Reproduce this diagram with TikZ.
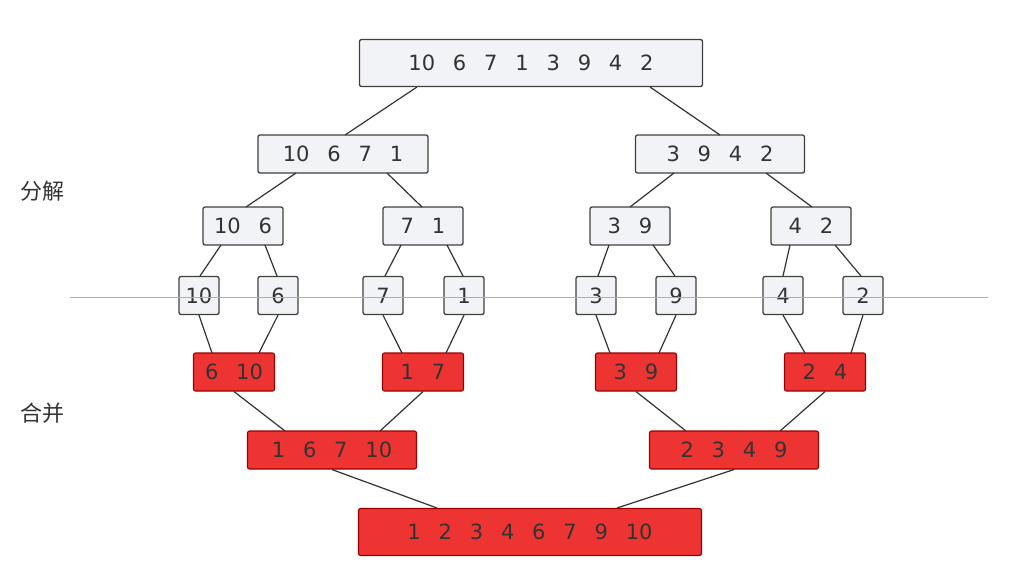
\documentclass[tikz,border=0pt]{standalone}
\usepackage{fontspec}
\setmainfont{DejaVu Sans}
\newfontfamily\cjk{Noto Sans CJK SC}
\definecolor{gf}{HTML}{F1F3F6}
\definecolor{rf}{HTML}{EE3333}
\definecolor{gl}{HTML}{8CC49A}
\begin{document}
\begin{tikzpicture}[x=1pt,y=-1pt,
 g/.style={draw=black!75,fill=gf,rounded corners=2pt,line width=1.3pt,minimum height=38pt,inner sep=0pt,font=\fontsize{21}{24}\selectfont,text=black!80},
 r/.style={draw=red!60!black,fill=rf,rounded corners=2pt,line width=1.1pt,minimum height=38pt,inner sep=0pt,font=\fontsize{21}{24}\selectfont,text=black!80},
 e/.style={draw=black!80,line width=1.2pt}]
\useasboundingbox (0,0) rectangle (1024,571);
\def\s{\hspace{0.85em}}
\node[g,minimum width=343pt,minimum height=47pt] (t) at (531,63) {10\s6\s7\s1\s3\s9\s4\s2};
\node[g,minimum width=170pt] (a) at (343,154) {10\s6\s7\s1};
\node[g,minimum width=169pt] (b) at (720,154) {3\s9\s4\s2};
\node[g,minimum width=80pt] (a1) at (243,226) {10\s6};
\node[g,minimum width=80pt] (a2) at (423,226) {7\s1};
\node[g,minimum width=80pt] (b1) at (630,226) {3\s9};
\node[g,minimum width=80pt] (b2) at (811,226) {4\s2};
\foreach \n/\x/\t in {l1/199/10,l2/278/6,l3/383/7,l4/464/1,l5/596/3,l6/676/9,l7/783/4,l8/863/2}
  \node[g,minimum width=40pt] (\n) at (\x,295.5) {\t};
\node[r,minimum width=81pt] (m1) at (234,372) {6\s10};
\node[r,minimum width=81pt] (m2) at (423,372) {1\s7};
\node[r,minimum width=81pt] (m3) at (636,372) {3\s9};
\node[r,minimum width=81pt] (m4) at (825,372) {2\s4};
\node[r,minimum width=169pt] (n1) at (332,450) {1\s6\s7\s10};
\node[r,minimum width=169pt] (n2) at (734,450) {2\s3\s4\s9};
\node[r,minimum width=343pt,minimum height=47pt] (f) at (530,532) {1\s2\s3\s4\s6\s7\s9\s10};
\draw[e] (417,87) -- (345,135);
\draw[e] (650,87) -- (720,135);
\draw[e] (296,173) -- (246,207);
\draw[e] (387,173) -- (422,207);
\draw[e] (674,173) -- (630,207);
\draw[e] (766,173) -- (812,207);
\draw[e] (221,245) -- (200,276); \draw[e] (265,245) -- (277,276);
\draw[e] (401,245) -- (385,276); \draw[e] (447,245) -- (463,276);
\draw[e] (609,245) -- (598,276); \draw[e] (653,245) -- (675,276);
\draw[e] (790,245) -- (783,276); \draw[e] (835,245) -- (861,276);
\draw[e] (l1.south) -- (212,353); \draw[e] (l2.south) -- (259,353);
\draw[e] (l3.south) -- (402,353); \draw[e] (l4.south) -- (446,353);
\draw[e] (l5.south) -- (610,353); \draw[e] (l6.south) -- (659,353);
\draw[e] (l7.south) -- (805,353); \draw[e] (l8.south) -- (851,353);
\draw[e] (m1.south) -- (285,431); \draw[e] (m2.south) -- (380,431);
\draw[e] (m3.south) -- (686,431); \draw[e] (m4.south) -- (780,431);
\draw[e] (n1.south) -- (437,508); \draw[e] (n2.south) -- (617,508);
\draw[gl,line width=1pt] (70,297) -- (988,297);
\node[font=\cjk\fontsize{22}{24}\selectfont,text=black!80] (d) at (42,191) {分解};
\node[font=\cjk\fontsize{22}{24}\selectfont,text=black!80] (h) at (42,413) {合并};
\end{tikzpicture}
\end{document}
